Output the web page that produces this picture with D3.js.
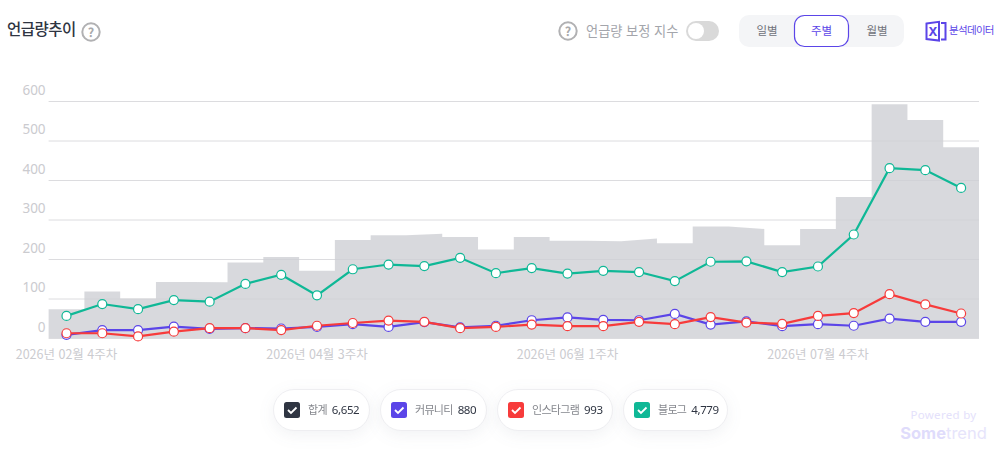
<!DOCTYPE html>
<html lang="ko">
<head>
<meta charset="utf-8">
<title>언급량추이</title>
<script src="https://cdn.jsdelivr.net/npm/d3@7"></script>
<style>
	html, body { margin: 0; padding: 0; background: #fff; overflow: hidden; }
	svg { display: block; font-family: "Noto Sans CJK KR", "Noto Sans", sans-serif; }
	.pill { filter: drop-shadow(0 4px 8px rgba(60, 70, 100, .07)); }
</style>
</head>
<body>
<svg id="chart" width="1007" height="461"></svg>
<script>
'use strict'

const weeks = [
	'2026년 02월 4주차', '2026년 03월 1주차', '2026년 03월 2주차', '2026년 03월 3주차', '2026년 03월 4주차',
	'2026년 04월 1주차', '2026년 04월 2주차', '2026년 04월 3주차', '2026년 04월 4주차', '2026년 05월 1주차',
	'2026년 05월 2주차', '2026년 05월 3주차', '2026년 05월 4주차', '2026년 05월 5주차', '2026년 06월 1주차',
	'2026년 06월 2주차', '2026년 06월 3주차', '2026년 06월 4주차', '2026년 07월 1주차', '2026년 07월 2주차',
	'2026년 07월 3주차', '2026년 07월 4주차', '2026년 07월 5주차', '2026년 08월 1주차', '2026년 08월 2주차',
	'2026년 08월 3주차'
];
const xTickLabels = ['2026년 02월 4주차', '2026년 04월 3주차', '2026년 06월 1주차', '2026년 07월 4주차'];
const yTicks = [0, 100, 200, 300, 400, 500, 600];

const total = [73, 118, 100, 142, 141, 191, 205, 170, 248, 260, 264, 256, 224, 256, 246, 245, 252, 240, 282, 276, 235, 276, 357, 592, 552, 483];
const community = [8, 20, 20, 29, 23, 25, 24, 28, 35, 28, 40, 27, 31, 45, 52, 46, 45, 61, 34, 42, 30, 35, 31, 49, 41, 41];
const instagram = [12, 12, 4, 16, 25, 25, 20, 31, 38, 44, 41, 25, 28, 34, 30, 30, 41, 35, 53, 39, 36, 56, 63, 111, 85, 62];
const blog = [56, 86, 73, 96, 92, 137, 160, 108, 174, 186, 182, 203, 164, 177, 163, 170, 167, 144, 193, 194, 167, 181, 262, 430, 425, 380];

const legendNames = ['합계', '커뮤니티', '인스타그램', '블로그'];
const legendValues = ['6,652', '880', '993', '4,779'];
const legendColors = ['#2f3542', '#5b45e8', '#f73b3b', '#0fb896'];

const margin = { left: 48.6, right: 979, top: 101, bottom: 338 };
const svg = d3.select('#chart');

const x = d3.scaleBand().domain(weeks).range([margin.left, margin.right]).padding(0);
const y = d3.scaleLinear().domain([0, 600]).range([margin.bottom, margin.top]);
const cx = d => x(d) + x.bandwidth() / 2;

// gridlines + y labels
const yAxis = svg.append('g')
	.attr('transform', `translate(${margin.left},0)`)
	.call(d3.axisLeft(y).tickValues(yTicks).tickSize(0).tickPadding(3));
yAxis.select('.domain').remove();
yAxis.selectAll('text')
	.attr('dy', -7)
	.attr('fill', '#cbcbcf')
	.attr('font-size', 13.5)
	.attr('font-family', '"Noto Sans", sans-serif');
yAxis.selectAll('.tick').append('line')
	.attr('x2', margin.right - margin.left)
	.attr('stroke', '#dcdcdf');

// total: steps, small changes between neighbours get joined by a slope
const corners = [];
total.forEach((v, i) => {
	const d = weeks[i];
	if (i === 0 || Math.abs(v - total[i - 1]) > 7) corners.push({ x: x(d), v: v });
	corners.push({ x: x(d) + x.bandwidth(), v: v });
});
svg.append('path')
	.datum(corners)
	.attr('fill', 'rgba(206, 208, 213, .8)')
	.attr('d', d3.area().x(d => d.x).y0(y(0)).y1(d => y(d.v)));

// x labels
const xAxis = svg.append('g')
	.attr('transform', `translate(0,${margin.bottom})`)
	.call(d3.axisBottom(x).tickValues(xTickLabels).tickSize(0).tickPadding(12.5));
xAxis.select('.domain').remove();
xAxis.selectAll('text')
	.attr('fill', '#cbcbcf')
	.attr('font-size', 12.5)
	.attr('font-family', '"Noto Sans CJK KR", sans-serif');

// lines
const line = d3.line().x((d, i) => cx(weeks[i])).y(d => y(d));
[[community, legendColors[1]], [instagram, legendColors[2]], [blog, legendColors[3]]].forEach(([values, color]) => {
	const g = svg.append('g');
	g.append('path')
		.datum(values)
		.attr('fill', 'none')
		.attr('stroke', color)
		.attr('stroke-width', 2.2)
		.attr('d', line);
	g.selectAll('circle')
		.data(values)
		.enter().append('circle')
		.attr('cx', (d, i) => cx(weeks[i]))
		.attr('cy', d => y(d))
		.attr('r', 4.5)
		.attr('fill', '#fff')
		.attr('stroke', color)
		.attr('stroke-width', 1.2);
});

// header
function helpIcon(px, py) {
	const g = svg.append('g').attr('transform', `translate(${px},${py})`);
	g.append('circle').attr('r', 8.7).attr('fill', 'none').attr('stroke', '#b1b1b3').attr('stroke-width', 2);
	g.append('text').attr('text-anchor', 'middle').attr('y', 4.5).attr('font-size', 12.5).attr('font-weight', 700)
		.attr('fill', '#a9a9ab').text('?');
}
svg.append('text').attr('x', 7).attr('y', 35).attr('font-size', 15.5).attr('font-weight', 500)
	.attr('letter-spacing', -0.5).attr('fill', '#2f3542').text('언급량추이');
helpIcon(91, 32);
helpIcon(568, 31);
svg.append('text').attr('x', 586).attr('y', 35.5).attr('font-size', 13.2).attr('fill', '#a3a5ab').text('언급량 보정 지수');
svg.append('rect').attr('x', 686).attr('y', 21).attr('width', 33).attr('height', 20).attr('rx', 10).attr('fill', '#d9d9d9');
svg.append('circle').attr('cx', 696).attr('cy', 31).attr('r', 8).attr('fill', '#fff');

svg.append('rect').attr('x', 739).attr('y', 15).attr('width', 165).attr('height', 32).attr('rx', 10).attr('fill', '#f4f5f7');
svg.append('rect').attr('x', 794.5).attr('y', 15.5).attr('width', 54).attr('height', 31).attr('rx', 10).attr('fill', '#fff')
	.attr('stroke', '#5b45e8').attr('stroke-width', 1.2);
[['일별', 767, '#70727a'], ['주별', 821.5, '#5b45e8'], ['월별', 877, '#70727a']].forEach(([t, tx, c]) => {
	svg.append('text').attr('x', tx).attr('y', 35).attr('text-anchor', 'middle').attr('font-size', 11.5).attr('fill', c).text(t);
});

// excel icon
const xl = svg.append('g').attr('transform', 'translate(926,21)');
xl.append('path').attr('d', 'M0.5 2.5 L13 0.8 V19.5 L0.5 18 Z').attr('fill', '#fff').attr('stroke', '#5b45e8').attr('stroke-width', 2);
xl.append('path').attr('d', 'M15 2 H19.5 V18.5 H15').attr('fill', 'none').attr('stroke', '#5b45e8').attr('stroke-width', 2);
xl.append('text').attr('x', 7).attr('y', 15).attr('text-anchor', 'middle').attr('font-size', 12.5).attr('font-weight', 700)
	.attr('font-family', '"Noto Sans", sans-serif').attr('fill', '#5b45e8').text('X');
svg.append('text').attr('x', 949).attr('y', 34).attr('font-size', 10.5).attr('letter-spacing', -0.7).attr('fill', '#5b45e8').text('분석데이터');

// legend pills
const pillBox = [[273.5, 96], [380.5, 106], [497.5, 115], [623.5, 104]];
const legend = svg.selectAll('g.pill')
	.data(legendNames)
	.enter().append('g')
	.attr('class', 'pill')
	.attr('transform', (d, i) => `translate(${pillBox[i][0]},389.5)`);
legend.append('rect')
	.attr('width', (d, i) => pillBox[i][1])
	.attr('height', 41)
	.attr('rx', 20.5)
	.attr('fill', '#fff')
	.attr('stroke', '#eeeef1');
legend.append('rect')
	.attr('x', 10.5).attr('y', 12.5).attr('width', 16).attr('height', 16).attr('rx', 2.5)
	.attr('fill', (d, i) => legendColors[i]);
legend.append('path')
	.attr('d', 'M14.5 20.5 L17.5 23.5 L23 18')
	.attr('fill', 'none').attr('stroke', '#fff').attr('stroke-width', 1.8);
legend.append('text')
	.attr('x', 34.5).attr('y', 24.5)
	.attr('font-size', 11).attr('letter-spacing', -0.7).attr('fill', '#85878d')
	.text(d => d)
	.each(function(d, i) {
		const w = this.getComputedTextLength();
		d3.select(this.parentNode).append('text')
			.attr('x', 34.5 + w + 5).attr('y', 24.5)
			.attr('font-size', 11.5).attr('letter-spacing', -0.4).attr('fill', '#2f3542')
			.attr('font-family', '"Noto Sans", sans-serif')
			.text(legendValues[i]);
	});

// watermark
svg.append('text').attr('x', 943.5).attr('y', 419).attr('text-anchor', 'middle').attr('font-size', 11.5)
	.attr('letter-spacing', 0.3).attr('font-family', '"Noto Sans", sans-serif').attr('fill', '#e4e1fb').text('Powered by');
const brand = svg.append('text').attr('x', 943.5).attr('y', 438.5).attr('text-anchor', 'middle').attr('font-size', 16.5)
	.attr('font-family', 'Inter, sans-serif');
brand.append('tspan').attr('font-weight', 700).attr('fill', '#dfdcfb').text('Some');
brand.append('tspan').attr('font-weight', 400).attr('fill', '#e6e4fb').text('trend');
</script>
</body>
</html>
